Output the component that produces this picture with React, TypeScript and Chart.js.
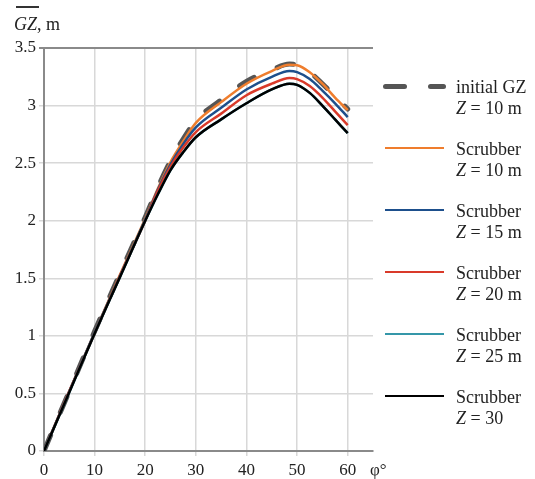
import React, { useEffect, useRef } from 'react';
import { Chart, registerables } from 'chart.js';

Chart.register(...registerables);

const angles = [0, 5, 10, 15, 20, 22.5, 25, 27.5, 30, 35, 40, 45, 48.5, 50, 52.5, 55, 57.5, 60];
const initialGZ = [0, 0.52, 1.04, 1.54, 2.03, 2.29, 2.52, 2.71, 2.87, 3.05, 3.21, 3.31, 3.36, 3.355, 3.29, 3.19, 3.08, 2.97];
const scrubberZ10 = [0, 0.52, 1.03, 1.53, 2.02, 2.28, 2.51, 2.69, 2.85, 3.03, 3.19, 3.3, 3.355, 3.35, 3.29, 3.19, 3.07, 2.96];
const scrubberZ15 = [0, 0.52, 1.03, 1.52, 2.01, 2.27, 2.49, 2.665, 2.81, 2.98, 3.14, 3.25, 3.3, 3.29, 3.23, 3.13, 3.02, 2.9];
const scrubberZ20 = [0, 0.52, 1.02, 1.52, 2.0, 2.26, 2.47, 2.635, 2.77, 2.93, 3.09, 3.19, 3.24, 3.23, 3.17, 3.07, 2.95, 2.83];
const scrubberZ25 = [0, 0.51, 1.02, 1.51, 2.0, 2.23, 2.44, 2.595, 2.725, 2.88, 3.02, 3.14, 3.19, 3.18, 3.11, 3.0, 2.88, 2.76];
const scrubberZ30 = [0, 0.51, 1.02, 1.51, 2.0, 2.23, 2.44, 2.595, 2.725, 2.88, 3.02, 3.14, 3.19, 3.18, 3.11, 3.0, 2.88, 2.76];

const xTicks = [0, 10, 20, 30, 40, 50, 60];
const yMax = 3.5;
const xMax = 65;

const seriesNames = ['initial GZ', 'Scrubber', 'Scrubber', 'Scrubber', 'Scrubber', 'Scrubber'];
const seriesZ = ['10 m', '10 m', '15 m', '20 m', '25 m', '30'];
const seriesColors = ['#555555', '#ef7d2d', '#1d4f8c', '#d93a2a', '#3597a9', '#000000'];
const seriesData = [initialGZ, scrubberZ10, scrubberZ15, scrubberZ20, scrubberZ25, scrubberZ30];

const FONT = "'Liberation Serif', 'DejaVu Serif', serif";

export default function App() {
  const ref = useRef<HTMLCanvasElement>(null);

  useEffect(() => {
    if (!ref.current) return;
    const datasets = seriesData.map((vals, i) => ({
      label: seriesNames[i] + ' Z = ' + seriesZ[i],
      data: vals.map((v, k) => ({ x: angles[k], y: v })),
      borderColor: seriesColors[i],
      backgroundColor: seriesColors[i],
      borderWidth: i === 0 ? 5 : 2.5,
      borderDash: i === 0 ? [17, 25] : [],
      borderCapStyle: i === 0 ? ('round' as const) : ('butt' as const),
      pointRadius: 0,
      cubicInterpolationMode: 'monotone' as const,
      order: 5 - i,
      fill: false,
    }));
    const chart = new Chart(ref.current, {
      type: 'line',
      data: { datasets },
      options: {
        animation: false,
        responsive: false,
        devicePixelRatio: 1,
        layout: { padding: { top: 48, right: 162, left: 0, bottom: 0 } },
        plugins: { legend: { display: false }, tooltip: { enabled: false } },
        scales: {
          x: {
            type: 'linear',
            min: 0,
            max: xMax,
            afterBuildTicks: (s: any) => {
              s.ticks = xTicks.map((v) => ({ value: v }));
            },
            afterFit: (s: any) => {
              s.height = 28;
            },
            grid: { color: '#d8d8d8', lineWidth: 1.5, tickLength: 5 },
            border: { color: '#8a8a8a', width: 2 },
            ticks: {
              font: { family: FONT, size: 17 },
              color: '#222',
              padding: 4,
              maxRotation: 0,
              autoSkip: false,
            },
          },
          y: {
            min: 0,
            max: yMax,
            afterFit: (s: any) => {
              s.width = 44;
            },
            grid: {
              color: (c: any) => (c.tick && c.tick.value === yMax ? '#8a8a8a' : '#d8d8d8'),
              lineWidth: (c: any) => (c.tick && c.tick.value === yMax ? 2 : 1.5),
              tickLength: 5,
            },
            border: { color: '#8a8a8a', width: 2 },
            ticks: {
              stepSize: 0.5,
              font: { family: FONT, size: 17 },
              color: '#222',
              padding: 3,
              callback: (v: any) => String(v),
            },
          },
        },
      },
    });
    return () => chart.destroy();
  }, []);

  return (
    <div style={{ position: 'absolute', left: 0, top: 0, width: 535, height: 479, fontFamily: FONT, color: '#222', background: '#fff' }}>
      <canvas ref={ref} width={535} height={479} style={{ position: 'absolute', left: 0, top: 0, width: 535, height: 479 }} />
      <div style={{ position: 'absolute', left: 16, top: 6, width: 23, height: 1.5, background: '#333' }} />
      <div style={{ position: 'absolute', left: 14, top: 14, fontSize: 18, lineHeight: '20px', whiteSpace: 'nowrap' }}>
        <i>GZ</i>, m
      </div>
      <div style={{ position: 'absolute', left: 370, top: 460, fontSize: 17, lineHeight: '20px', whiteSpace: 'nowrap' }}>φ°</div>
      {seriesData.map((_, i) => {
        const cy = 86 + 62 * i;
        return (
          <React.Fragment key={i}>
            {i === 0 ? (
              <>
                <div style={{ position: 'absolute', left: 383, top: cy - 2.5, width: 24, height: 5, borderRadius: 3, background: seriesColors[0] }} />
                <div style={{ position: 'absolute', left: 428, top: cy - 2.5, width: 18, height: 5, borderRadius: 3, background: seriesColors[0] }} />
              </>
            ) : (
              <div style={{ position: 'absolute', left: 385, top: cy - 1.25, width: 59, height: 2.5, background: seriesColors[i] }} />
            )}
            <div style={{ position: 'absolute', left: 456, top: cy - 9, fontSize: 18, lineHeight: '21px', whiteSpace: 'nowrap' }}>
              <div>{seriesNames[i]}</div>
              <div>
                <i>Z</i> = {seriesZ[i]}
              </div>
            </div>
          </React.Fragment>
        );
      })}
    </div>
  );
}
